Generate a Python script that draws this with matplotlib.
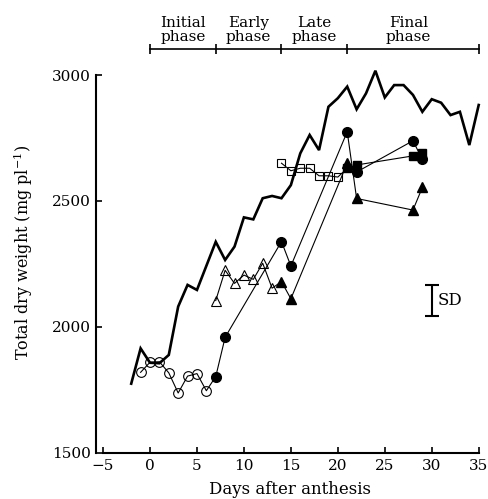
import matplotlib
matplotlib.use('Agg')
import matplotlib.pyplot as plt

# total dry weight, thick line (no markers)
total_days = [-2, -1, 0, 1, 2, 3, 4, 5, 7, 8, 9, 10, 11, 12, 13, 14, 15, 16, 17, 18,
              19, 20, 21, 22, 23, 24, 25, 26, 27, 28, 29, 30, 31, 32, 33, 34, 35]
total_wt = [1775, 1915, 1858, 1856, 1889, 2081, 2167, 2147, 2338, 2266, 2319, 2435, 2427,
            2511, 2520, 2511, 2563, 2689, 2762, 2702, 2874, 2908, 2954, 2864, 2927, 3017,
            2911, 2960, 2960, 2921, 2854, 2904, 2890, 2841, 2854, 2722, 2881]

# marker groups
open_circ_d = [-1, 0, 1, 2, 3, 4, 5, 6]
open_circ_w = [1820, 1860, 1862, 1818, 1738, 1805, 1815, 1747]
fill_circ_d = [7, 8, 14, 15, 21]
fill_circ_w = [1803, 1959, 2339, 2242, 2775]
fill_circ2_d = [22, 28, 29]
fill_circ2_w = [2615, 2739, 2665]

open_tri_d = [7, 8, 9, 10, 11, 12, 13]
open_tri_w = [2105, 2225, 2173, 2206, 2189, 2253, 2154]
fill_tri_d = [14, 15, 21]
fill_tri_w = [2180, 2112, 2650]
fill_tri2_d = [22, 28, 29]
fill_tri2_w = [2510, 2464, 2554]

open_sq_d = [14, 15, 16, 17, 18, 19, 20]
open_sq_w = [2650, 2620, 2630, 2630, 2600, 2600, 2595]
fill_sq_d = [21, 22, 28, 29]
fill_sq_w = [2630, 2643, 2679, 2690]

phase_bounds = [0, 7, 14, 21, 35]
phase_labels = ['Initial\nphase', 'Early\nphase', 'Late\nphase', 'Final\nphase']
phase_centers = [3.5, 10.5, 17.5, 27.5]

sd_day = 30
sd_lo, sd_hi = 2043, 2167

plt.rcParams['font.family'] = 'DejaVu Serif'
plt.rcParams['mathtext.fontset'] = 'dejavuserif'

fig = plt.figure(figsize=(4.89, 4.99), dpi=100)
ax = fig.add_axes([96/489, 1 - 458/499, (483.4 - 96)/489, (458 - 47.3)/499])

ax.plot(total_days, total_wt, color='black', lw=1.9, solid_joinstyle='miter')

# connecting thin lines
ax.plot(open_circ_d + fill_circ_d + fill_tri2_d, open_circ_w + fill_circ_w + fill_tri2_w,
        color='black', lw=0.8)
ax.plot(open_tri_d + fill_tri_d + fill_circ2_d, open_tri_w + fill_tri_w + fill_circ2_w,
        color='black', lw=0.8)
ax.plot(open_sq_d + fill_sq_d, open_sq_w + fill_sq_w, color='black', lw=0.8)

ax.plot(open_circ_d, open_circ_w, 'o', ms=7, mfc='none', mec='black', mew=0.8)
ax.plot(fill_circ_d + fill_circ2_d, fill_circ_w + fill_circ2_w, 'o', ms=7, color='black')
ax.plot(open_tri_d, open_tri_w, '^', ms=6.5, mfc='none', mec='black', mew=0.8)
ax.plot(fill_tri_d + fill_tri2_d, fill_tri_w + fill_tri2_w, '^', ms=6.5, color='black')
ax.plot(open_sq_d, open_sq_w, 's', ms=5.8, mfc='none', mec='black', mew=0.8)
ax.plot(fill_sq_d, fill_sq_w, 's', ms=5.8, color='black')

# SD bar
ax.errorbar([sd_day], [(sd_lo + sd_hi) / 2], yerr=[(sd_hi - sd_lo) / 2], color='black',
            lw=1.5, capsize=5, capthick=1.5)
ax.text(sd_day + 0.6, (sd_lo + sd_hi) / 2, 'SD', fontsize=12, va='center', ha='left')

# phase bar above the plot
bar_y = 3103
ax.plot([phase_bounds[0], phase_bounds[-1]], [bar_y, bar_y], color='black', lw=1.2, clip_on=False)
ax.plot(phase_bounds, [bar_y] * len(phase_bounds), '|', color='black', ms=7, mew=1.2, clip_on=False)
for c, lab in zip(phase_centers, phase_labels):
    ax.text(c, bar_y + 20, lab, ha='center', va='bottom', fontsize=11, linespacing=1.0,
            clip_on=False)

ax.set_xlim(-5.75, 35.5)
ax.set_ylim(1480, 3110)
for s in ['top', 'right']:
    ax.spines[s].set_visible(False)
ax.spines['bottom'].set_position(('data', 1500))
ax.spines['bottom'].set_bounds(-5, 35)
ax.spines['left'].set_bounds(1500, 3000)
ax.spines['bottom'].set_linewidth(1.5)
ax.spines['left'].set_linewidth(1.5)

ax.set_xticks(range(-5, 36, 5))
ax.set_xticklabels(['\u22125'] + [str(v) for v in range(0, 36, 5)])
ax.set_yticks([1500, 2000, 2500, 3000])
ax.tick_params(direction='in', length=4, width=1.2, labelsize=11)
ax.tick_params(axis='x', pad=4)

ax.set_xlabel('Days after anthesis', fontsize=12, labelpad=6)
ax.set_ylabel('Total dry weight (mg pl$^{-1}$)', fontsize=11.5, labelpad=12)

plt.savefig('out.png', dpi=100)
